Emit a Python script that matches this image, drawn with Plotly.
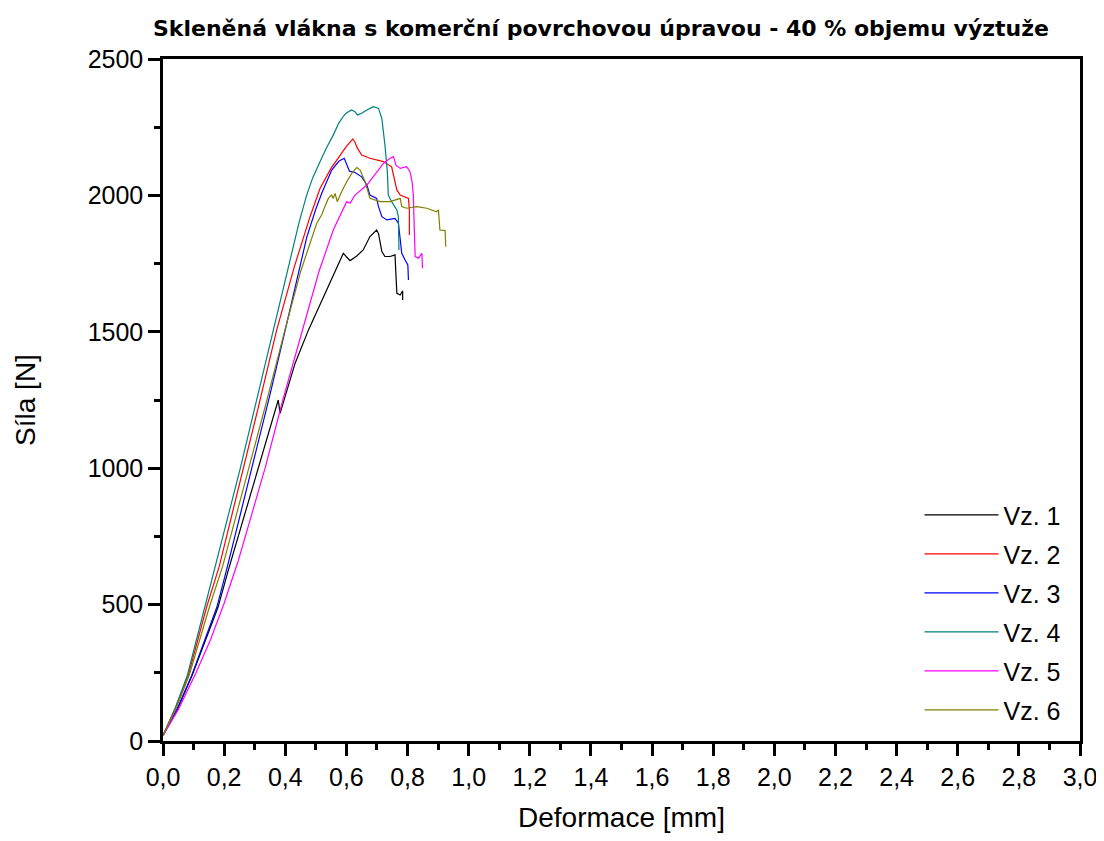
import plotly.graph_objects as go

title_text = "Skleněná vlákna s komerční povrchovou úpravou - 40 % objemu výztuže"
x_title = "Deformace [mm]"
y_title = "Síla [N]"
names = ["Vz. 1", "Vz. 2", "Vz. 3", "Vz. 4", "Vz. 5", "Vz. 6"]
colors = ["#000000", "#FF0000", "#0000FF", "#008080", "#FF00FF", "#808000"]

x1 = [0.0, 0.045, 0.095, 0.18, 0.214, 0.312, 0.377, 0.383, 0.432, 0.476, 0.51, 0.536, 0.565,
      0.590, 0.600, 0.612, 0.634, 0.655, 0.677, 0.699, 0.705, 0.710, 0.716, 0.726, 0.743,
      0.759, 0.765, 0.776, 0.784, 0.784]
y1 = [20, 110, 240, 490, 627, 1000, 1250, 1201, 1384, 1507, 1590, 1653, 1725,
      1788, 1775, 1761, 1778, 1800, 1849, 1873, 1860, 1830, 1794, 1776, 1776,
      1782, 1641, 1635, 1650, 1617]

x2 = [0.0, 0.04, 0.083, 0.143, 0.184, 0.264, 0.31, 0.372, 0.43, 0.481, 0.514, 0.55, 0.579,
      0.60, 0.621, 0.628, 0.635, 0.650, 0.677, 0.721, 0.748, 0.755, 0.765, 0.776, 0.803,
      0.806, 0.806]
y2 = [20, 120, 242, 492, 640, 1000, 1215, 1507, 1740, 1922, 2026, 2100, 2148,
      2180, 2207, 2195, 2175, 2148, 2136, 2124, 2105, 2070, 2020, 2001, 1989,
      1947, 1855]

x3 = [0.0, 0.045, 0.094, 0.176, 0.208, 0.291, 0.35, 0.400, 0.44, 0.470, 0.50, 0.52, 0.552,
      0.575, 0.593, 0.600, 0.610, 0.628, 0.650, 0.667, 0.677, 0.699, 0.705, 0.716, 0.732,
      0.759, 0.770, 0.776, 0.781, 0.792, 0.801, 0.803]
y3 = [20, 115, 240, 490, 627, 1000, 1270, 1507, 1700, 1845, 1950, 2010, 2093,
      2125, 2136, 2115, 2089, 2084, 2068, 2038, 2001, 1989, 1959, 1922, 1910,
      1916, 1898, 1840, 1788, 1763, 1745, 1690]

x4 = [0.0, 0.04, 0.08, 0.137, 0.173, 0.253, 0.30, 0.361, 0.418, 0.445, 0.470, 0.49, 0.514,
      0.535, 0.557, 0.575, 0.590, 0.60, 0.617, 0.628, 0.636, 0.650, 0.670, 0.688, 0.705,
      0.716, 0.726, 0.734, 0.737, 0.748, 0.765, 0.770, 0.772]
y4 = [20, 120, 242, 492, 640, 1000, 1220, 1507, 1775, 1900, 2001, 2065, 2124,
      2175, 2221, 2265, 2290, 2302, 2313, 2307, 2295, 2301, 2315, 2325, 2319,
      2282, 2185, 2087, 2001, 1977, 1947, 1922, 1800]

x5 = [0.0, 0.05, 0.108, 0.155, 0.2, 0.246, 0.29, 0.334, 0.392, 0.457, 0.51, 0.557, 0.579,
      0.601, 0.612, 0.628, 0.667, 0.699, 0.721, 0.743, 0.754, 0.762, 0.776, 0.797, 0.808,
      0.815, 0.819, 0.822, 0.825, 0.836, 0.847, 0.849]
y5 = [20, 115, 250, 370, 505, 660, 830, 1000, 1250, 1507, 1720, 1873, 1928,
      1977, 1971, 2001, 2038, 2087, 2117, 2136, 2142, 2111, 2099, 2105, 2087,
      2050, 2000, 1880, 1776, 1770, 1788, 1733]

x6 = [0.0, 0.043, 0.086, 0.152, 0.195, 0.282, 0.34, 0.399, 0.45, 0.503, 0.519, 0.530, 0.541,
      0.552, 0.557, 0.563, 0.570, 0.585, 0.601, 0.62, 0.634, 0.645, 0.661, 0.677, 0.710,
      0.743, 0.776, 0.781, 0.797, 0.830, 0.863, 0.895, 0.901, 0.906, 0.923, 0.925]
y6 = [20, 120, 242, 492, 640, 1000, 1250, 1507, 1720, 1898, 1928, 1960, 1989,
      2001, 1989, 2007, 1977, 2015, 2050, 2085, 2102, 2093, 2050, 1989, 1977,
      1977, 1989, 1959, 1953, 1959, 1953, 1940, 1947, 1873, 1871, 1812]

xs = [x1, x2, x3, x4, x5, x6]
ys = [y1, y2, y3, y4, y5, y6]

fig = go.Figure()
for i in range(6):
    fig.add_trace(go.Scatter(x=xs[i], y=ys[i], mode="lines", name=names[i],
                             legendgroup=names[i],
                             line=dict(color=colors[i], width=1.2)))

font_family = "Liberation Sans, Arial, sans-serif"
fig.update_layout(
    width=1088, height=825,
    paper_bgcolor="white", plot_bgcolor="white",
    margin=dict(l=155, r=16, t=51, b=92),
    separators=",.",
    font=dict(family=font_family, size=23, color="black"),
    title=dict(text="<b>" + title_text + "</b>", x=0.545, xanchor="center", y=0.976, yanchor="middle",
               font=dict(family="DejaVu Sans, sans-serif", size=22, color="black")),
    showlegend=True,
    legend=dict(x=0.825, xanchor="left", y=0.365, yanchor="top",
                bgcolor="rgba(0,0,0,0)", font=dict(family=font_family, size=25, color="black"),
                tracegroupgap=3.5, itemwidth=74),
    xaxis=dict(range=[0, 3], dtick=0.2, tick0=0, tickformat=".1f", automargin=False,
               ticklabeloverflow="allow",
               showgrid=False, zeroline=False, showline=True, linecolor="black", linewidth=2.5,
               mirror=True, ticks="outside", ticklen=12, tickwidth=2.5, tickcolor="black",
               minor=dict(dtick=0.1, ticks="outside", ticklen=6, tickwidth=2.5, tickcolor="black"),
               title=dict(text=x_title, standoff=40),
               tickfont=dict(family=font_family, size=25, color="black")),
    yaxis=dict(range=[0, 2500], dtick=500, tick0=0, automargin=False,
               ticklabeloverflow="allow",
               showgrid=False, zeroline=False, showline=True, linecolor="black", linewidth=2.5,
               mirror=True, ticks="outside", ticklen=12, tickwidth=2.5, tickcolor="black",
               minor=dict(dtick=250, ticks="outside", ticklen=6, tickwidth=2.5, tickcolor="black"),
               title=dict(text=y_title, standoff=44),
               tickfont=dict(family=font_family, size=25, color="black")),
)

fig.write_html("out.html")
